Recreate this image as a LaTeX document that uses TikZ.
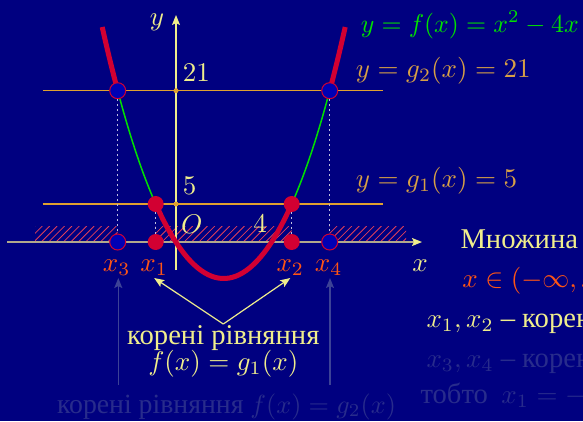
\RequirePackage{fix-cm}
\documentclass[tikz,border=0pt]{standalone}
\usepackage[no-math]{fontspec}
\usepackage{tikz}
\usetikzlibrary{arrows.meta,positioning}
\newfontfamily\cyrfont{Liberation Serif}
\newcommand{\mathsz}{\fontsize{10}{12}\selectfont}
\newcommand{\cyrsize}{\fontsize{10.6}{12}\selectfont\cyrfont}

\definecolor{navybg}{RGB}{0,0,128}
\definecolor{curvered}{RGB}{210,0,50}
\definecolor{dotblue}{RGB}{0,0,180}
\definecolor{curvegreen}{RGB}{0,225,0}
\definecolor{paleyellow}{RGB}{240,238,140}
\definecolor{levelorange}{RGB}{224,160,48}
\definecolor{labelorange}{RGB}{215,160,70}
\definecolor{rootred}{RGB}{255,85,20}
\definecolor{axisgray}{RGB}{176,168,140}
\definecolor{dimtext}{RGB}{40,44,140}
\definecolor{dimarrow}{RGB}{60,66,150}
\definecolor{hatchred}{RGB}{225,64,90}

\begin{document}
\begin{tikzpicture}[
  x=1pt, y=-1pt,
  declare function={pu(\x)=(\x-223.7)/100;
    py(\x)=278.5-156.9*pu(\x)*pu(\x)-9.11*pu(\x)*pu(\x)*pu(\x)*pu(\x);},
  lbl/.style={font=\mathsz,scale=2.7,inner sep=0pt,outer sep=1.1pt},
  cyrlbl/.style={font=\cyrsize,scale=2.7,inner sep=0pt},
  reddot/.style={circle,fill=curvered,minimum size=16pt,inner sep=0pt},
  bluedot/.style={circle,fill=dotblue,draw=curvered,line width=1pt,minimum size=16pt,inner sep=0pt},
  tick/.style={circle,fill=levelorange,minimum size=5pt,inner sep=0pt},
  level/.style={levelorange,line width=1.5pt},
  hatch/.style={hatchred,line width=0.8pt},
  guide/.style={white!75!navybg,line width=1.2pt,dash pattern=on 1.5pt off 3.5pt},
  redcurve/.style={curvered,line width=5pt,samples=40},
  greencurve/.style={curvegreen,line width=1.5pt,samples=30},
  pointer/.style={-{Stealth[length=10pt,width=8pt,inset=2pt]},paleyellow,line width=1.2pt},
  dimpointer/.style={-{Stealth[length=10pt,width=8pt,inset=2pt]},dimarrow,line width=1.5pt}
]
\fill[navybg] (0,0) rectangle (583,421);
\useasboundingbox (0,0) rectangle (583,421);
\clip (0,0) rectangle (583,421);

% hatched parts of the x-axis
\foreach \a/\b in {35/117.7, 155.7/291.7, 329.7/406}{
  \begin{scope}
    \clip (\a,226) rectangle (\b,242);
    \foreach \h in {0,...,21}
      \draw[hatch] ({\a-16+\h*7.4},242) -- ++(16,-16);
  \end{scope}
}

% axes
\draw[axisgray,line width=1.5pt,-{Stealth[length=10pt,width=8pt,inset=2pt,color=paleyellow]}] (7,242) -- (422,242);
\draw[paleyellow,line width=1.2pt,-{Stealth[length=10pt,width=8pt,inset=2pt]}] (176,270) -- (176,15);

% levels y=21 and y=5
\draw[level] (42.7,90.7) -- (382.7,90.7);
\draw[level] (42.7,204) -- (382.7,204);
\node[tick] (t21) at (176,90.7) {};
\node[tick] (t5) at (176,204) {};

% the parabola
\draw[greencurve,domain=117.7:155.7] plot (\x,{py(\x)});
\draw[greencurve,domain=291.7:329.7] plot (\x,{py(\x)});
\draw[redcurve,domain=102.2:117.7] plot (\x,{py(\x)});
\draw[redcurve,domain=155.7:291.7] plot (\x,{py(\x)});
\draw[redcurve,domain=329.7:345.2] plot (\x,{py(\x)});

% intersection points
\node[bluedot] (q3) at (117.7,90.7) {};
\node[bluedot] (q4) at (329.7,90.7) {};
\node[reddot] (q1) at (155.7,204) {};
\node[reddot] (q2) at (291.7,204) {};
\node[bluedot] (p3) at (117.7,242) {};
\node[bluedot] (p4) at (329.7,242) {};
\node[reddot] (p1) at (155.7,242) {};
\node[reddot] (p2) at (291.7,242) {};

\draw[guide] (q3) -- (p3);
\draw[guide] (q4) -- (p4);
\draw[guide] (q1) -- (p1);
\draw[guide] (q2) -- (p2);

% axis labels
\node[lbl,paleyellow,anchor=base] (ylbl) at (157,25) {$y$};
\node[lbl,paleyellow,anchor=base] (xlbl) at (420,271.5) {$x$};
\node[lbl,paleyellow,anchor=base west] (l21) at (180,81) {$21$};
\node[lbl,paleyellow,anchor=base west] (l5) at (180,194) {$5$};
\node[lbl,paleyellow,anchor=base] (lO) at (191.7,233) {$O$};
\node[lbl,paleyellow,anchor=base] (l4) at (260,232) {$4$};

% roots
\node[lbl,rootred,anchor=base] (lx3) at (116.7,271) {$x_3$};
\node[lbl,rootred,anchor=base] (lx1) at (154.2,271) {$x_1$};
\node[lbl,rootred,anchor=base] (lx2) at (290.3,271) {$x_2$};
\node[lbl,rootred,anchor=base] (lx4) at (328.7,271) {$x_4$};

% graph names
\node[lbl,curvegreen,anchor=base west,scale=0.955] (fname) at (358,32) {$y=f(x)=x^2-4x$};
\node[lbl,labelorange,anchor=base west] (g2name) at (353,77) {$y=g_2(x)=21$};
\node[lbl,labelorange,anchor=base west] (g1name) at (353,187) {$y=g_1(x)=5$};

% roots of f(x)=g_1(x)
\node[cyrlbl,paleyellow,anchor=base] (roots1) at (223.3,344) {корені рівняння};
\node[lbl,paleyellow,anchor=base] (eq1) at (223.3,370) {$f(x)=g_1(x)$};
\coordinate (apex) at (223.3,324);
\draw[pointer] (apex) -- (lx1.south);
\draw[pointer] (apex) -- (lx2.south);

% roots of f(x)=g_2(x), dimmed
\node[cyrlbl,dimtext,anchor=base,scale=0.97] (roots2) at (226.5,413) {корені рівняння {\mathsz$f(x)=g_2(x)$}};
\coordinate (b3) at (118.3,385);
\coordinate (b4) at (330,385);
\draw[dimpointer] (b3) -- (b3 |- lx3.south);
\draw[dimpointer] (b4) -- (b4 |- lx4.south);

% answer
\node[cyrlbl,paleyellow,anchor=base west] (ans) at (460,248) {Множина};
\node[lbl,rootred,anchor=base west] (set) at (459.5,287) {$x\in(-\infty,x_3]$};
\node[cyrlbl,paleyellow,anchor=base west] (c12) at (426,327) {{\mathsz$x_1,x_2$} – корені};
\node[cyrlbl,dimtext,anchor=base west] (c34) at (426,367) {{\mathsz$x_3,x_4$} – корені};
\node[cyrlbl,dimtext,anchor=base west] (same) at (420,403) {тобто\hspace{5pt}{\mathsz$x_1=-1$}};
\end{tikzpicture}
\end{document}
